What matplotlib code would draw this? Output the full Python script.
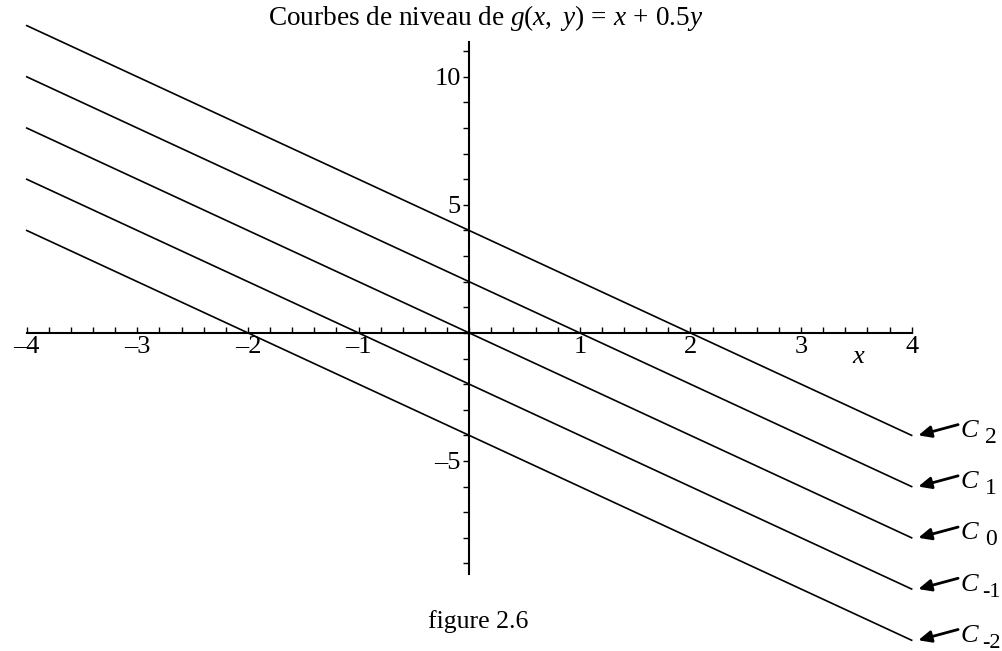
import numpy as np
import matplotlib.pyplot as plt

plt.rcParams['font.family'] = ['Liberation Serif', 'DejaVu Serif']
plt.rcParams['mathtext.fontset'] = 'custom'
plt.rcParams['mathtext.rm'] = 'Liberation Serif'
plt.rcParams['mathtext.it'] = 'Liberation Serif:italic'

# level curves of g(x, y) = x + 0.5y, i.e. y = 2(c - x)
levels = [2, 1, 0, -1, -2]
x = np.array([-4.0, 4.0])

xticks_major = [-4, -3, -2, -1, 1, 2, 3, 4]
xtick_labels = ['\u20134', '\u20133', '\u20132', '\u20131', '1', '2', '3', '4']
yticks_major = [-5, 5, 10]
ytick_labels = ['\u20135', '5', '10']

fig = plt.figure(figsize=(10.03, 6.51), dpi=100)
ax = fig.add_axes([0, 0, 1, 1])
ax.set_xlim(-4.242, 4.826)
ax.set_ylim(-12.42, 13.0)

for c in levels:
    ax.plot(x, 2 * (c - x), color='black', lw=1.2)
    yend = 2 * (c - 4)
    ax.annotate('', xy=(4.06, yend), xytext=(4.42, yend + 0.42),
                arrowprops=dict(arrowstyle='-|>,head_length=0.55,head_width=0.25',
                                color='black', lw=2,
                                mutation_scale=14, shrinkA=0, shrinkB=0))
    sub = str(c) if c >= 0 else '-' + str(-c)
    ax.text(4.445, yend - 0.06, 'C', fontsize=19, style='italic',
            ha='left', va='baseline')
    ax.text(4.665 if c >= 0 else 4.64, yend - 0.3, sub,
            fontsize=17 if c >= 0 else 16, ha='left', va='baseline')

for s in ['top', 'right']:
    ax.spines[s].set_visible(False)
ax.spines['left'].set_position(('data', 0))
ax.spines['bottom'].set_position(('data', 0))
ax.spines['left'].set_bounds(-9.4, 11.37)
ax.spines['bottom'].set_bounds(-4, 4)
for s in ['left', 'bottom']:
    ax.spines[s].set_linewidth(1.5)

ax.set_xticks(xticks_major)
ax.set_xticklabels(xtick_labels)
ax.set_xticks(np.arange(-4, 4.01, 0.2), minor=True)
ax.set_yticks(yticks_major)
ax.set_yticklabels(ytick_labels)
ax.set_yticks(np.arange(-9, 12, 1), minor=True)
ax.tick_params(axis='x', which='both', direction='in', length=4, width=1,
               labelsize=19, pad=2)
ax.tick_params(axis='y', which='both', direction='out', length=4, width=1,
               labelsize=19, pad=2)

ax.text(3.52, -0.94, 'x', fontsize=19, style='italic', ha='center', va='center')

fig.text(0.484, 0.995, r'Courbes de niveau de $g(x,\ y)\,=\,x\,+\,0.5y$',
         fontsize=19.6, ha='center', va='top')
fig.text(0.477, 0.045, 'figure 2.6', fontsize=18.5, ha='center', va='center')

fig.savefig('out.png', dpi=100)
